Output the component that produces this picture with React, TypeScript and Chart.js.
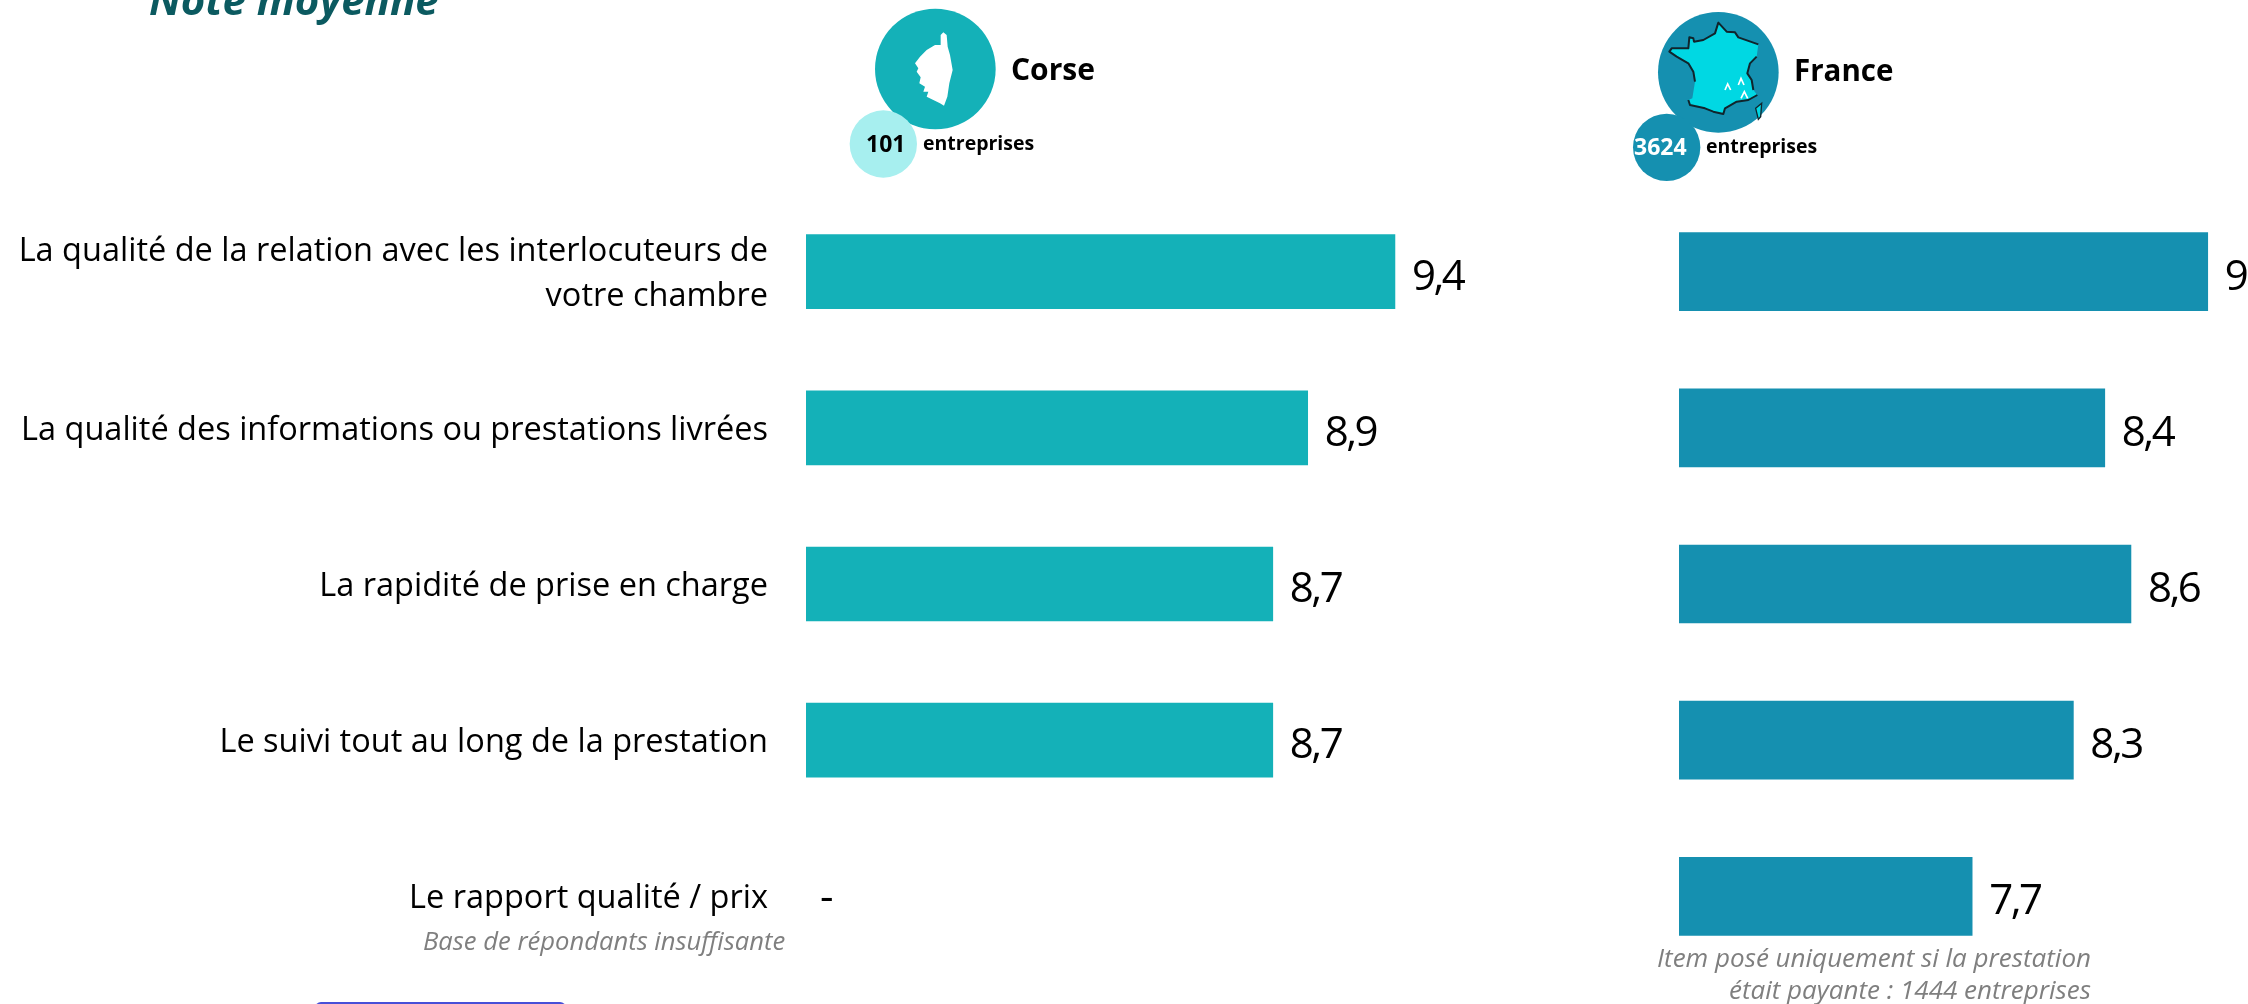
import React, { useEffect, useRef } from "react";
import { Chart, registerables } from "chart.js";

Chart.register(...registerables);

const categories: (string | string[])[] = [
  ["La qualité de la relation avec les interlocuteurs de", "votre chambre"],
  "La qualité des informations ou prestations livrées",
  "La rapidité de prise en charge",
  "Le suivi tout au long de la prestation",
  "Le rapport qualité / prix",
];
const corseValues: (number | null)[] = [9.4, 8.9, 8.7, 8.7, null];
const franceValues: (number | null)[] = [9.03, 8.44, 8.59, 8.26, 7.68];
const corseLabels = ["9,4", "8,9", "8,7", "8,7", "-"];
const franceLabels = ["9,0", "8,4", "8,6", "8,3", "7,7"];

const TEAL = "#14B1B8";
const BLUE = "#1590B0";
const FONT = '"Open Sans", "Noto Sans", sans-serif';

const valueLabelPlugin = (labels: string[]) => ({
  id: "valueLabels",
  beforeDraw(chart: any) {
    // nudge the category tick labels down to sit on the reference's text line
    const y = chart.scales.y;
    if (y.options.ticks.display) {
      y.getLabelItems().forEach((it: any) => {
        it.options.translation = [it.options.translation[0], it.options.translation[1] + 2.5];
      });
    }
  },
  afterDatasetsDraw(chart: any) {
    const { ctx, scales } = chart;
    const meta = chart.getDatasetMeta(0);
    ctx.save();
    ctx.fillStyle = "#000";
    ctx.textBaseline = "middle";
    ctx.textAlign = "left";
    ctx.font = `42px ${FONT}`;
    ctx.letterSpacing = "-2.5px";
    labels.forEach((t, i) => {
      const v = chart.data.datasets[0].data[i];
      const x = v == null ? scales.x.getPixelForValue(scales.x.min) + 14 : meta.data[i].x + 17;
      ctx.fillText(t, x, meta.data[i].y + (v == null ? 3 : 6));
    });
    ctx.restore();
  },
});

function Panel({ left, width, plotLeft, plotWidth, axisMin, data, labels, color, thickness, showCats }: any) {
  const ref = useRef<HTMLCanvasElement>(null);
  useEffect(() => {
    const chart = new Chart(ref.current!, {
      type: "bar",
      data: {
        labels: categories as any,
        datasets: [{ data, backgroundColor: color, barThickness: thickness, borderWidth: 0 }],
      },
      plugins: [valueLabelPlugin(labels)],
      options: {
        indexAxis: "y",
        animation: false,
        responsive: false,
        devicePixelRatio: 1,
        layout: {
          padding: { left: 0, right: width - plotLeft - plotWidth, top: 193.5, bottom: 29.5 },
        },
        plugins: { legend: { display: false }, tooltip: { enabled: false }, title: { display: false } },
        scales: {
          x: { display: false, min: axisMin, max: axisMin + plotWidth / 174.5 },
          y: {
            position: "left",
            grid: { display: false },
            border: { display: false },
            afterFit: (s: any) => {
              s.width = plotLeft;
              s.paddingTop = 0;
              s.paddingBottom = 0;
            },
            ticks: {
              display: showCats,
              color: "#000",
              padding: 30,
              autoSkip: false,
              font: { family: FONT, size: 32.5, lineHeight: 1.4 },
            },
          },
        },
      } as any,
    });
    return () => chart.destroy();
  }, []);
  return <canvas ref={ref} width={width} height={1004} style={{ position: "absolute", left, top: 0, width, height: 1004 }} />;
}

const abs = (left: number, top: number, extra: any = {}) => ({
  position: "absolute" as const,
  left,
  top,
  whiteSpace: "nowrap" as const,
  fontFamily: FONT,
  ...extra,
});

export default function App() {
  return (
    <div style={{ position: "absolute", left: 0, top: 0, width: 2248, height: 1004, overflow: "hidden", background: "#fff" }}>
      <Panel left={0} width={1600} plotLeft={806} plotWidth={794} axisMin={6.025} data={corseValues} labels={corseLabels} color={TEAL} thickness={74} showCats />
      <Panel left={1600} width={648} plotLeft={79} plotWidth={569} axisMin={6} data={franceValues} labels={franceLabels} color={BLUE} thickness={78} showCats={false} />

      <div style={abs(149, -28, { fontSize: 42, lineHeight: "54px", fontWeight: 700, fontStyle: "italic", color: "#0B5A60" })}>Note moyenne</div>

      <svg style={{ position: "absolute", left: 820, top: 0 }} width={300} height={190} viewBox="0 0 900 570">
        <circle cx={346} cy={207} r={181} fill={TEAL} />
        <circle cx={190} cy={432} r={101} fill="#A7EFEF" />
        <path fill="#fff" d="M370 97 L380 105 L383 140 L390 165 L398 210 L388 250 L382 290 L372 317 L360 310 L340 300 L320 290 L325 275 L310 275 L315 260 L298 250 L302 232 L290 215 L295 205 L285 190 L300 170 L320 150 L345 135 L362 135 L362 105 Z" />
      </svg>
      <div style={abs(1011, 49, { fontSize: 30, lineHeight: "40px", fontWeight: 700, color: "#000" })}>Corse</div>
      <div style={abs(866, 127, { fontSize: 23, lineHeight: "32px", fontWeight: 700, color: "#000" })}>101</div>
      <div style={abs(923, 129, { fontSize: 19.5, lineHeight: "28px", fontWeight: 700, color: "#000" })}>entreprises</div>

      <svg style={{ position: "absolute", left: 1610, top: 0 }} width={300} height={190} viewBox="0 0 900 570">
        <circle cx={325} cy={217} r={181} fill={BLUE} />
        <circle cx={170} cy={442} r={101} fill={BLUE} />
        <path fill="#00D8E3" d="M325 68 L350 95 L375 97 L385 112 L445 133 L440 170 L420 190 L412 220 L425 240 L430 270 L442 285 L415 300 L380 305 L345 325 L340 342 L310 335 L285 325 L240 315 L235 300 L247 295 L255 245 L250 215 L235 190 L200 170 L178 155 L185 145 L235 145 L238 112 L250 115 L252 125 L280 120 L315 100 Z" />
        <path fill="none" stroke="#10242c" strokeWidth={6} strokeLinejoin="round" d="M235 300 L240 315 L285 325 L310 335 L340 342 L345 325 L380 305 L415 300 L442 285 M430 270 L425 240 L412 220 L420 190 L440 170 M445 133 L385 112 L375 97 L350 95 L325 68 L315 100 L280 120 L252 125 L250 115 L238 112 L235 145 L185 145 L178 155 L200 170 L235 190 L250 215 L255 245" />
        <path fill="#00D8E3" stroke="#10242c" strokeWidth={4} d="M437 325 L455 310 L452 350 L445 358 Z" />
        <path fill="none" stroke="#ffffff" strokeWidth={5} d="M345 270 L353 252 L362 270 M385 255 L393 235 L402 255 M393 295 L403 275 L413 295" />
      </svg>
      <div style={abs(1794, 50, { fontSize: 29.5, lineHeight: "40px", fontWeight: 700, color: "#000" })}>France</div>
      <div style={abs(1634, 130, { fontSize: 23, lineHeight: "32px", fontWeight: 700, color: "#fff" })}>3624</div>
      <div style={abs(1706, 132, { fontSize: 19.5, lineHeight: "28px", fontWeight: 700, color: "#000" })}>entreprises</div>

      <div style={abs(423, 923, { fontSize: 25.6, lineHeight: "36px", fontStyle: "italic", color: "#7F7F7F" })}>Base de répondants insuffisante</div>
      <div style={{ ...abs(1640, 941, { fontSize: 26, lineHeight: "32px", fontStyle: "italic", color: "#7F7F7F" }), width: 451, textAlign: "right" }}>
        Item posé uniquement si la prestation<br />était payante : 1444 entreprises
      </div>

      <div style={{ position: "absolute", left: 315, top: 1002, width: 251, height: 12, borderRadius: 10, background: "#474FD8" }} />
    </div>
  );
}
